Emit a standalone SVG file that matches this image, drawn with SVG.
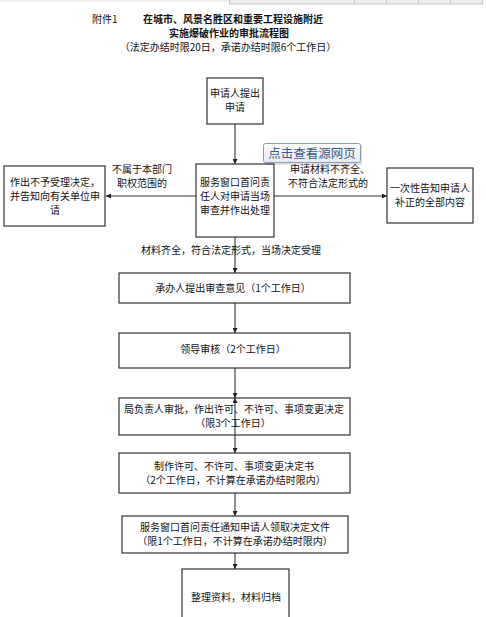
<svg xmlns="http://www.w3.org/2000/svg" width="486" height="617" viewBox="0 0 486 617">
<style>
text{font-family:"Noto Sans CJK SC","Liberation Sans",sans-serif;font-size:10px;fill:#111;text-anchor:middle}
.b{font-weight:bold}
.box{fill:#fff;stroke:#333;stroke-width:1.2}
.ln{stroke:#333;stroke-width:1.1;fill:none}
.tip{font-size:12.5px;fill:#3a5a86;text-anchor:middle}
</style>
<defs>
<marker id="ah" viewBox="0 0 10 10" refX="10" refY="5" markerWidth="5" markerHeight="5" markerUnits="userSpaceOnUse" orient="auto-start-reverse">
<path d="M0,0L10,5L0,10z" fill="#222"/>
</marker>
<linearGradient id="tg" x1="0" y1="0" x2="0" y2="1">
<stop offset="0" stop-color="#fdfdfd"/><stop offset="1" stop-color="#e6e9ef"/>
</linearGradient>
</defs>
<rect width="486" height="617" fill="#fff"/>
<g id="topbar">
<rect x="0" y="0" width="229" height="2" fill="#f0f0f0"/>
<rect x="229.5" y="-1" width="253" height="5" fill="#ececec" stroke="#c4c4c4"/>
<path d="M354.5,0V4M386.5,0V4M418.5,0V4M450.5,0V4" stroke="#c4c4c4"/>
</g>
<g id="title">
<text x="92" y="23" style="text-anchor:start">附件1</text>
<text x="233" y="23" class="b">在城市、风景名胜区和重要工程设施附近</text>
<text x="229" y="37" class="b">实施爆破作业的审批流程图</text>
<text x="228" y="51">（法定办结时限20日，承诺办结时限6个工作日）</text>
</g>
<g id="connectors">
<line class="ln" x1="235" y1="124" x2="235" y2="164" marker-end="url(#ah)"/>
<line class="ln" x1="196" y1="196" x2="106" y2="196" marker-end="url(#ah)"/>
<line class="ln" x1="274" y1="196" x2="387" y2="196" marker-end="url(#ah)"/>
<line class="ln" x1="235" y1="237" x2="235" y2="273" marker-end="url(#ah)"/>
<line class="ln" x1="235" y1="303" x2="235" y2="333" marker-end="url(#ah)"/>
<line class="ln" x1="235" y1="368" x2="235" y2="398" marker-end="url(#ah)"/>
<line class="ln" x1="235" y1="398" x2="235" y2="453" marker-start="url(#ah)" marker-end="url(#ah)"/>
<line class="ln" x1="235" y1="493" x2="235" y2="516" marker-end="url(#ah)"/>
<line class="ln" x1="235" y1="553" x2="235" y2="569" marker-end="url(#ah)"/>
<text x="142" y="173">不属于本部门</text>
<text x="142" y="187">职权范围的</text>
<text x="330" y="173">申请材料不齐全、</text>
<text x="328" y="187">不符合法定形式的</text>
<text x="231" y="254">材料齐全，符合法定形式，当场决定受理</text>
</g>
<g id="n1"><rect class="box" x="207" y="78" width="56" height="46"/>
<text x="235" y="97">申请人提出</text><text x="235" y="111">申请</text></g>
<g id="n2"><rect class="box" x="196" y="164" width="78" height="73"/>
<text x="235" y="186">服务窗口首问责</text><text x="235" y="200">任人对申请当场</text><text x="235" y="214">审查并作出处理</text></g>
<g id="n3"><rect class="box" x="4" y="166" width="101" height="60"/>
<text x="55" y="186">作出不予受理决定，</text><text x="55" y="200">并告知向有关单位申</text><text x="55" y="214">请</text></g>
<g id="n4"><rect class="box" x="387" y="168" width="86" height="55"/>
<text x="430" y="192">一次性告知申请人</text><text x="430" y="206">补正的全部内容</text></g>
<g id="n5"><rect class="box" x="119" y="273" width="231" height="30"/>
<text x="233" y="292">承办人提出审查意见（1个工作日）</text></g>
<g id="n6"><rect class="box" x="119" y="333" width="231" height="35"/>
<text x="233" y="353">领导审核（2个工作日）</text></g>
<g id="n7"><rect class="box" x="119" y="398" width="231" height="37" fill-opacity="0"/>
<text x="234" y="413">局负责人审批，作出许可、不许可、事项变更决定</text><text x="233" y="427">（限3个工作日）</text></g>
<g id="n8"><rect class="box" x="119" y="453" width="231" height="40"/>
<text x="234" y="470">制作许可、不许可、事项变更决定书</text><text x="233" y="484">（2个工作日，不计算在承诺办结时限内）</text></g>
<g id="n9"><rect class="box" x="122" y="516" width="226" height="37"/>
<text x="235" y="531">服务窗口首问责任通知申请人领取决定文件</text><text x="235" y="545">（限1个工作日，不计算在承诺办结时限内）</text></g>
<g id="n10"><rect class="box" x="182" y="569" width="107" height="60"/>
<text x="236" y="601">整理资料，材料归档</text></g>
<g id="tooltip">
<rect x="265" y="145" width="97" height="20" fill="#000" opacity="0.12"/>
<rect x="263.5" y="143.5" width="97" height="19" rx="2" fill="url(#tg)" stroke="#8c9cb4"/>
<text x="312" y="158" class="tip">点击查看源网页</text>
</g>
</svg>
